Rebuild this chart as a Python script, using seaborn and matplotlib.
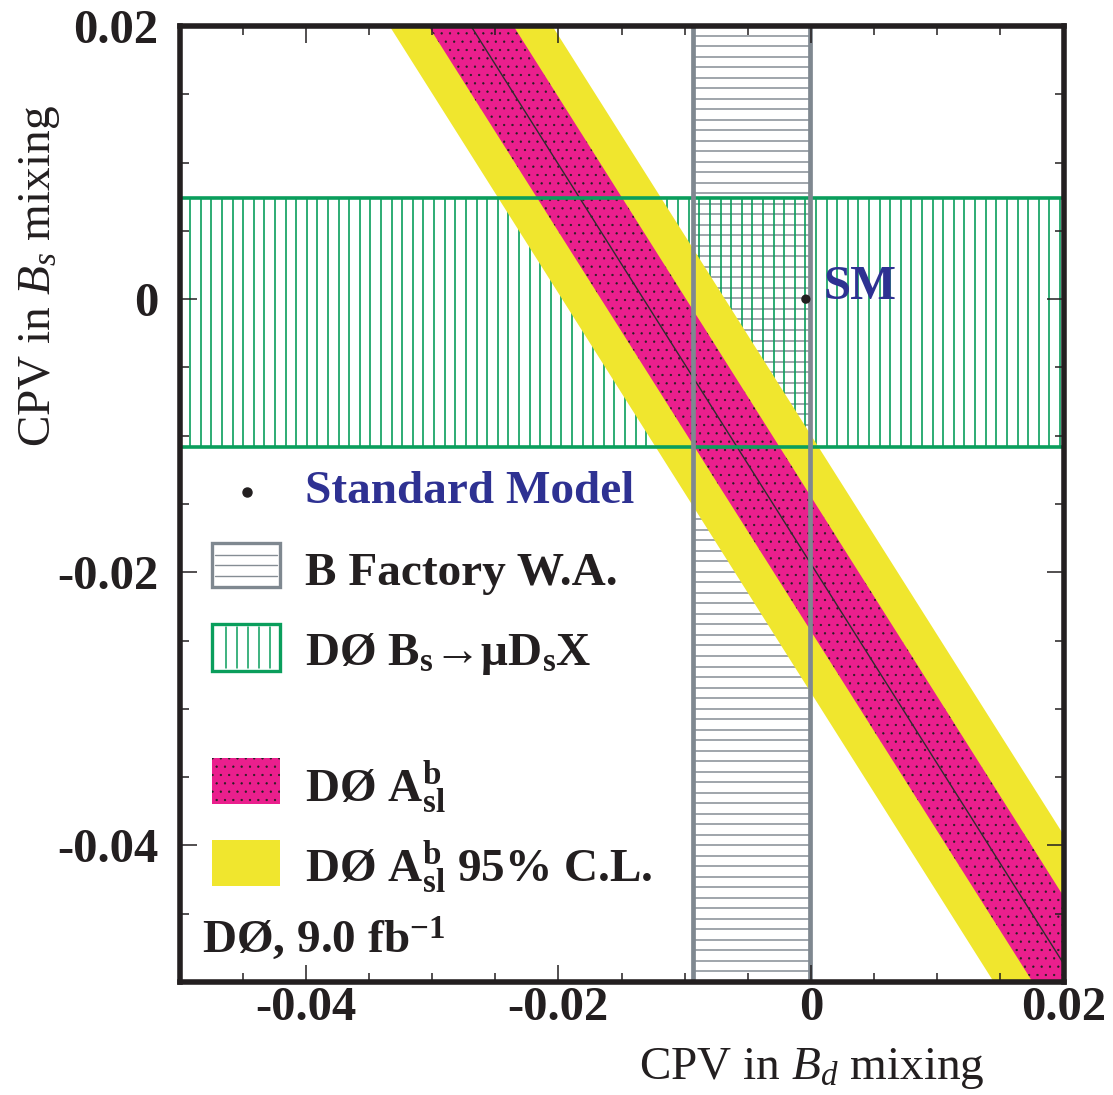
import numpy as np
import pandas as pd
import matplotlib
matplotlib.use("Agg")
import matplotlib.pyplot as plt
import seaborn as sns
from matplotlib.patches import Rectangle
from matplotlib.lines import Line2D
from matplotlib.ticker import MultipleLocator

# Standard Model expectation (a_sl^d, a_sl^s)
sm_ad = [-0.0004]
sm_as = [0.0000]

# B-factory world average of a_sl^d (band limits)
bfactory_ad = [-0.0093, -0.0001]

# D0 Bs -> mu Ds X measurement of a_sl^s (band limits)
d0_as = [-0.0108, 0.0074]

# D0 like-sign dimuon asymmetry: A_sl^b = c_d * a_sl^d + c_s * a_sl^s
asl_b = -0.00787
asl_b_err = 0.00200
asl_b_err95 = 0.00383
c_d = 0.594
c_s = 0.406

x_range = [-0.05, 0.02]
y_range = [-0.05, 0.02]
tick_values = [-0.04, -0.02, 0.0, 0.02]
tick_labels = ["-0.04", "-0.02", "0", "0.02"]

# colours
BLACK = "#231F20"
NAVY = "#2E3192"
MAGENTA = "#EA1F8D"
YELLOW = "#F0E62E"
GREEN = "#0A9E5C"
GRAY = "#7F8890"
GRAY_H = "#858D94"

sns.set_theme(style="ticks")
plt.rcParams["font.family"] = ["Liberation Serif", "DejaVu Serif"]
plt.rcParams.update({
    "mathtext.fontset": "custom",
    "mathtext.rm": "Liberation Serif",
    "mathtext.it": "Liberation Serif:italic",
    "mathtext.bf": "Liberation Serif:bold",
    "hatch.linewidth": 0.4,
    "hatch.color": BLACK,
})

W, H = 1113, 1095
fig = plt.figure(figsize=(W / 100, H / 100), dpi=100)
fig.patch.set_facecolor("white")


def fx(px):
    return px / W


def fy(py):
    return 1 - py / H


ax = fig.add_axes([fx(179.5), fy(982), (1063.5 - 179.5) / W, (982 - 26) / H])
ax.set_xlim(x_range)
ax.set_ylim(y_range)

# hatching of the two rectangular bands
gray_y = np.arange(y_range[0], y_range[1], 0.00077)
ax.hlines(gray_y, bfactory_ad[0], bfactory_ad[1], color=GRAY_H, lw=1.1, zorder=1)
green_x = np.arange(x_range[0], x_range[1], 0.00084)
ax.vlines(green_x, d0_as[0], d0_as[1], color=GREEN, lw=1.2, zorder=1)

# diagonal A_sl^b bands
xs = np.array([x_range[0] - 0.01, x_range[1] + 0.01])


def band_edge(a):
    return (a - c_d * xs) / c_s


ax.fill_between(xs, band_edge(asl_b - asl_b_err95), band_edge(asl_b + asl_b_err95),
                color=YELLOW, lw=0, zorder=2)
ax.fill_between(xs, band_edge(asl_b - asl_b_err), band_edge(asl_b + asl_b_err),
                facecolor=MAGENTA, edgecolor=BLACK, hatch="..", lw=0, zorder=3)
central = pd.DataFrame({"ad": xs, "as": band_edge(asl_b)})
sns.lineplot(data=central, x="ad", y="as", color="#2E2E2E", lw=1.0, ax=ax, zorder=4)

# band borders
for yv in d0_as:
    ax.axhline(yv, color=GREEN, lw=2.6, zorder=5)
for xv in bfactory_ad:
    ax.axvline(xv, color=GRAY, lw=3.4, zorder=6)

# Standard Model point
sns.scatterplot(x=sm_ad, y=sm_as, s=45, color=BLACK, edgecolor="none", ax=ax, zorder=7)
ax.annotate("SM", xy=(sm_ad[0], sm_as[0]), xytext=(13, 0), textcoords="offset points",
            ha="left", va="baseline", fontsize=35, fontweight="bold", color=NAVY, zorder=8)

ax.set_xlabel("")
ax.set_ylabel("")

# axes, ticks
ax.set_xticks(tick_values, tick_labels)
ax.set_yticks(tick_values, tick_labels)
ax.xaxis.set_minor_locator(MultipleLocator(0.005))
ax.yaxis.set_minor_locator(MultipleLocator(0.005))
ax.tick_params(which="both", direction="in", top=True, right=True, width=1.1,
               color=BLACK, labelcolor=BLACK, labelsize=35)
ax.tick_params(which="major", length=12)
ax.tick_params(which="minor", length=6.5)
ax.tick_params(axis="x", pad=3)
ax.tick_params(axis="y", pad=15)
for lab in ax.get_xticklabels() + ax.get_yticklabels():
    lab.set_fontweight("bold")
for sp in ax.spines.values():
    sp.set_linewidth(4)
    sp.set_color(BLACK)
    sp.set_zorder(10)
ax.xaxis.set_zorder(10)
ax.yaxis.set_zorder(10)

# axis titles
fig.text(fx(985), fy(1079), r"CPV in $B_d$ mixing", ha="right", va="baseline",
         fontsize=34, color=BLACK)
fig.text(fx(50), fy(447), r"CPV in $B_s$ mixing", rotation=90, rotation_mode="anchor",
         ha="left", va="baseline", fontsize=34, color=BLACK)

# legend
def fig_rect(x0, y0, x1, y1, **kw):
    r = Rectangle((fx(x0), fy(y1)), fx(x1) - fx(x0), fy(y0) - fy(y1),
                  transform=fig.transFigure, **kw)
    fig.add_artist(r)


def fig_line(x0, y0, x1, y1, **kw):
    fig.add_artist(Line2D([fx(x0), fx(x1)], [fy(y0), fy(y1)], transform=fig.transFigure, **kw))


txt = dict(fontsize=34, fontweight="bold", color=BLACK, ha="left", va="baseline")

fig.add_artist(Line2D([fx(247)], [fy(492)], marker="o", markersize=6.5, color=BLACK,
                      transform=fig.transFigure))
fig.text(fx(305), fy(503), "Standard Model", **{**txt, "color": NAVY})

fig_rect(212, 543, 280, 587, facecolor="white", edgecolor=GRAY, lw=2.4)
for yy in (554.5, 565, 575.5):
    fig_line(215, yy, 277, yy, color=GRAY_H, lw=1.0)
fig.text(fx(305), fy(585), "B Factory W.A.", **txt)

fig_rect(212, 624, 280, 671, facecolor="white", edgecolor=GREEN, lw=2.4)
for xx in (226, 237, 248, 259, 270):
    fig_line(xx, 627, xx, 668, color=GREEN, lw=1.1)
fig.text(fx(305), fy(665), r"DØ B$_\mathbf{s}$→μD$_\mathbf{s}$X", **txt)

fig_rect(212, 758, 280, 804, facecolor=MAGENTA, edgecolor=BLACK, hatch="..", lw=0)
fig.text(fx(305), fy(802), r"DØ A$^\mathbf{b}_\mathbf{sl}$", **txt)

fig_rect(212, 840, 280, 886, facecolor=YELLOW, lw=0)
fig.text(fx(305), fy(882), r"DØ A$^\mathbf{b}_\mathbf{sl}$ 95% C.L.", **txt)

fig.text(fx(202), fy(953), r"DØ, 9.0 fb$^\mathbf{-1}$", **txt)

fig.savefig("out.png", dpi=100, facecolor="white")
